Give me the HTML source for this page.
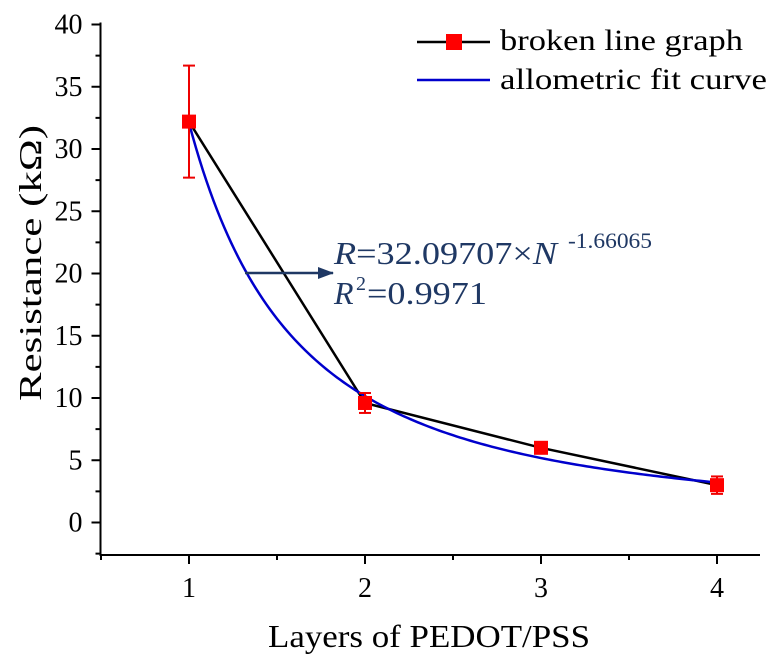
<!DOCTYPE html>
<html><head><meta charset="utf-8"><style>
body{margin:0;background:#fff}
svg{display:block;font-family:"Liberation Serif",serif}
</style></head><body>
<svg id="chart" width="781" height="663" viewBox="0 0 781 663">
<defs><marker id="ah" markerUnits="userSpaceOnUse" markerWidth="16" markerHeight="12" refX="15" refY="6" orient="auto"><path d="M0,0 L16,6 L0,12 z" fill="#1f3864"/></marker></defs>
<g id="axes"></g><g id="marks"></g>
<g>
<line x1="417" y1="42" x2="490" y2="42" stroke="#000" stroke-width="2.5"/>
<rect x="446" y="34" width="16" height="16" fill="#f00"/>
<text x="500" y="50" font-size="30" textLength="243" lengthAdjust="spacingAndGlyphs">broken line graph</text>
<line x1="417" y1="80" x2="490" y2="80" stroke="#0000cc" stroke-width="2.5"/>
<text x="500" y="89" font-size="30" textLength="267" lengthAdjust="spacingAndGlyphs">allometric fit curve</text>
</g>
<g fill="#1f3864">
<line x1="245" y1="273" x2="333" y2="273" stroke="#1f3864" stroke-width="2.5" marker-end="url(#ah)"/>
<text x="334" y="264" font-size="32" textLength="223" lengthAdjust="spacingAndGlyphs"><tspan font-style="italic">R</tspan>=32.09707×<tspan font-style="italic">N</tspan></text>
<text x="568" y="248" font-size="22" textLength="84" lengthAdjust="spacingAndGlyphs">-1.66065</text>
<text x="334" y="304" font-size="32"><tspan font-style="italic">R</tspan></text>
<text x="356" y="290" font-size="20">2</text>
<text x="367" y="304" font-size="32" textLength="120" lengthAdjust="spacingAndGlyphs">=0.9971</text>
</g>
<text x="268" y="647" font-size="32" textLength="322" lengthAdjust="spacingAndGlyphs">Layers of PEDOT/PSS</text>
<text transform="translate(41,401) rotate(-90)" font-size="32" textLength="276" lengthAdjust="spacingAndGlyphs">Resistance (kΩ)</text>
</svg>
<script>
const layers=[1,2,3,4];
const resistance=[32.2,9.6,6.0,3.0];
const errors=[4.5,0.8,0.3,0.7];
const fitA=32.09707, fitB=-1.66065;
const xTicks=[1,2,3,4];
const yTicks=[0,5,10,15,20,25,30,35,40];
const NS="http://www.w3.org/2000/svg";
const X=v=>189+(v-1)*176, Y=v=>522.5-v*12.45;
const L=100.5,R=760,T=24.5,B=555;
function mk(p,tag,a){const e=document.createElementNS(NS,tag);for(const k in a)e.setAttribute(k,a[k]);p.appendChild(e);return e;}
const ax=document.getElementById('axes'), mg=document.getElementById('marks');
let e=mk(ax,'line',{x1:L,y1:T-2,x2:L,y2:B,stroke:'#000','stroke-width':2});


e=mk(ax,'line',{x1:L-1,y1:B,x2:R,y2:B,stroke:'#000','stroke-width':2});


for(let v=0.5;v<=4.2;v+=0.5){const major=Number.isInteger(v);
 e=mk(ax,'line',{x1:X(v),y1:B,x2:X(v),y2:B+(major?9:5),stroke:'#000','stroke-width':2});
 
 }
xTicks.forEach(v=>{e=mk(ax,'text',{x:X(v),y:B+42,'font-size':28,'text-anchor':'middle'});e.textContent=v;
 
 });
for(let v=-2.5;v<=40;v+=2.5){const major=v%5===0;
 e=mk(ax,'line',{x1:L,y1:Y(v),x2:L-(major?9:5),y2:Y(v),stroke:'#000','stroke-width':2});
 
 }
yTicks.forEach(v=>{e=mk(ax,'text',{x:L-18,y:Y(v)+9,'font-size':28,'text-anchor':'end'});e.textContent=v;
 
 });
let pts=layers.map((v,i)=>X(v)+','+Y(resistance[i])).join(' ');
e=mk(mg,'polyline',{points:pts,fill:'none',stroke:'#000','stroke-width':2.5});


let fp=[];for(let n=1;n<=4.0001;n+=0.02)fp.push(X(n)+','+Y(fitA*Math.pow(n,fitB)));
e=mk(mg,'polyline',{points:fp.join(' '),fill:'none',stroke:'#0000cc','stroke-width':2.5});


layers.forEach((v,i)=>{const x=X(v),y1=Y(resistance[i]+errors[i]),y2=Y(resistance[i]-errors[i]);
 const g=mk(mg,'g',{stroke:'#e00','stroke-width':2});
 
 
 mk(g,'line',{x1:x,y1:y1,x2:x,y2:y2});mk(g,'line',{x1:x-6,y1:y1,x2:x+6,y2:y1});mk(g,'line',{x1:x-6,y1:y2,x2:x+6,y2:y2});
 e=mk(mg,'rect',{x:x-7,y:Y(resistance[i])-7,width:14,height:14,fill:'#f00'});
 
 });
</script>
</body></html>
